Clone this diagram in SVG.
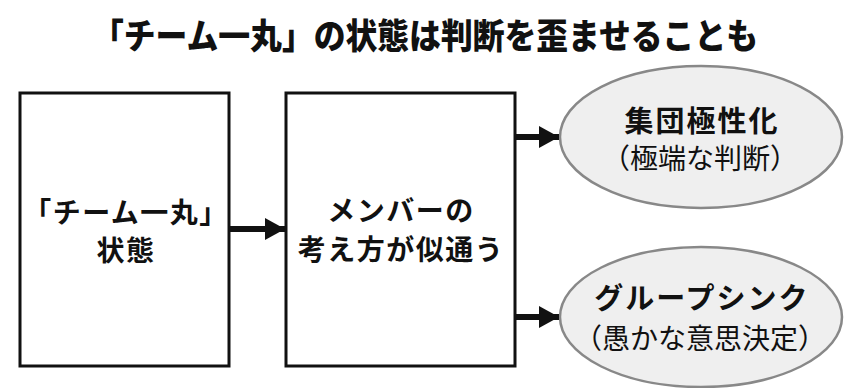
<svg xmlns="http://www.w3.org/2000/svg" width="860" height="388" viewBox="0 0 860 388">
<defs>
<style>
text{font-family:"Noto Sans CJK JP","Noto Sans",sans-serif;fill:#111;text-anchor:middle}
.t{font-size:35px;font-weight:900}
.b{font-size:28px;font-weight:bold;letter-spacing:1.5px}
.eb{font-size:29px;font-weight:bold;letter-spacing:2px}
.er{font-size:28px;font-weight:normal}
.box{fill:#fff;stroke:#111;stroke-width:3}
.ell{fill:#efefef;stroke:#888;stroke-width:2.5}
.conn{stroke:#111;stroke-width:6;fill:none}
</style>
<marker id="ah" markerUnits="userSpaceOnUse" markerWidth="22" markerHeight="22" refX="20" refY="11" orient="auto">
<path d="M0,0 L20,11 L0,22 Z" fill="#111"/>
</marker>
</defs>
<rect width="860" height="388" fill="#fff"/>
<text class="t" x="425" y="49" textLength="666" lengthAdjust="spacingAndGlyphs">「チーム一丸」の状態は判断を歪ませることも</text>
<g id="node-team">
<rect class="box" x="20" y="93" width="209" height="273"/>
<text class="b" x="126" y="223">「チーム一丸」</text>
<text class="b" x="126" y="261">状態</text>
</g>
<g id="node-similar">
<rect class="box" x="286" y="93" width="229" height="273"/>
<text class="b" x="401" y="221">メンバーの</text>
<text class="b" x="401" y="260">考え方が似通う</text>
</g>
<g id="node-polarization">
<ellipse class="ell" cx="701" cy="137" rx="141" ry="71"/>
<text class="eb" x="702" y="132">集団極性化</text>
<text class="er" x="700" y="169">（極端な判断）</text>
</g>
<g id="node-groupthink">
<ellipse class="ell" cx="701" cy="317" rx="141" ry="70"/>
<text class="eb" x="702" y="309">グループシンク</text>
<text class="er" x="700" y="349">（愚かな意思決定）</text>
</g>
<g id="connectors">
<line class="conn" x1="229" y1="229" x2="285" y2="229" marker-end="url(#ah)"/>
<line class="conn" x1="515" y1="137" x2="559" y2="137" marker-end="url(#ah)"/>
<line class="conn" x1="515" y1="317" x2="559" y2="317" marker-end="url(#ah)"/>
</g>
</svg>
